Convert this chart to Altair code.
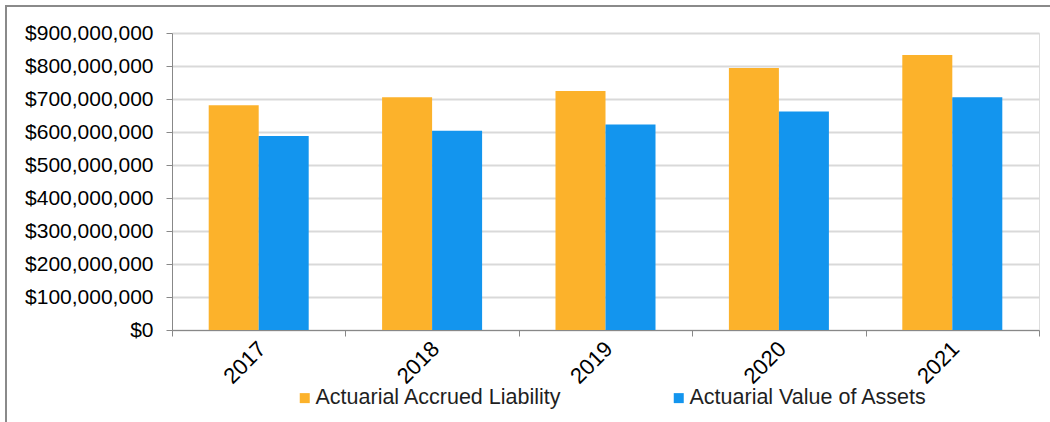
import altair as alt
import pandas as pd

# Funding history by valuation year (dollars)
years = ["2017", "2018", "2019", "2020", "2021"]
accrued_liability = [681_000_000, 705_000_000, 724_000_000, 794_000_000, 833_000_000]
asset_value = [588_000_000, 604_000_000, 623_000_000, 662_000_000, 705_000_000]

series_names = ["Actuarial Accrued Liability", "Actuarial Value of Assets"]
series_colors = ["#FCB22B", "#1395EE"]

rows = []
for yr, aal, ava in zip(years, accrued_liability, asset_value):
    rows.append({"year": yr, "series": series_names[0], "value": aal})
    rows.append({"year": yr, "series": series_names[1], "value": ava})
df = pd.DataFrame(rows)

FONT = "Liberation Sans"
GRID = "#D9D9D9"
AXIS = "#8C8C8C"
TEXT = "#1F1F1F"

bars = alt.Chart(df).mark_bar().encode(
    x=alt.X(
        "year:N",
        sort=years,
        scale=alt.Scale(paddingInner=0, paddingOuter=0),
        axis=alt.Axis(
            title=None,
            tickBand="extent",
            labelAngle=-45,
            labelAlign="right",
            labelBaseline="middle",
            labelFontSize=22,
            labelPadding=9,
            labelOffset=3,
            tickSize=6,
            grid=False,
        ),
    ),
    xOffset=alt.XOffset(
        "series:N",
        sort=series_names,
        scale=alt.Scale(paddingInner=0, paddingOuter=0.734),
    ),
    y=alt.Y(
        "value:Q",
        scale=alt.Scale(domain=[0, 900_000_000], nice=False),
        axis=alt.Axis(
            title=None,
            values=list(range(0, 900_000_001, 100_000_000)),
            format="$,.0f",
            labelFontSize=21,
            labelPadding=13,
            labelLimit=0,
            tickSize=6,
            grid=True,
            gridColor=GRID,
            gridWidth=2,
        ),
    ),
    color=alt.Color(
        "series:N",
        sort=series_names,
        scale=alt.Scale(domain=series_names, range=series_colors),
        legend=alt.Legend(
            title=None,
            orient="none",
            direction="horizontal",
            legendX=122,
            legendY=354,
            symbolType="square",
            symbolSize=100,
            symbolStrokeWidth=0,
            labelFontSize=21.5,
            labelFont=FONT,
            labelColor=TEXT,
            labelLimit=0,
            labelOffset=0,
            columnPadding=106,
        ),
    ),
)

# Outer frame along the top and left edges of the figure
frame_data = alt.Data(values=[{"k": 0}])
frame_top = alt.Chart(frame_data).mark_rule(color="#8A8A8A", strokeWidth=2).encode(
    x=alt.value(-167), x2=alt.value(880), y=alt.value(-27)
)
frame_left = alt.Chart(frame_data).mark_rule(color="#8A8A8A", strokeWidth=2).encode(
    x=alt.value(-166), y=alt.value(-28), y2=alt.value(392)
)

chart = (
    alt.layer(bars, frame_top, frame_left)
    .properties(
        width=867,
        height=297,
        autosize=alt.AutoSizeParams(type="none"),
        padding={"left": 172, "top": 33, "right": 11, "bottom": 92},
    )
    .configure_view(stroke=None)
    .configure_axis(
        labelFont=FONT,
        labelColor=TEXT,
        domainColor=AXIS,
        domainWidth=2,
        tickColor=AXIS,
        tickWidth=2,
    )
    .configure(background="white")
)

chart.save("out.html", embed_options={"renderer": "svg", "actions": False})
